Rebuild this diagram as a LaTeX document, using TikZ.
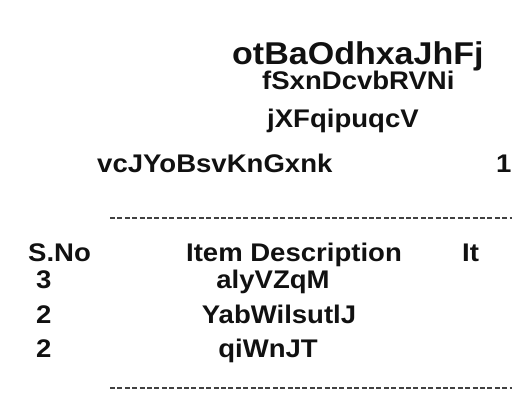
\documentclass[tikz,border=0pt]{standalone}
\usepackage{fontspec}
\setmainfont[FakeStretch=1.08]{Liberation Sans}
\definecolor{ink}{RGB}{17, 17, 17}
\tikzset{
  head/.style={font=\bfseries\fontsize{31.5}{34}\selectfont, text=ink, inner sep=0pt, anchor=base west},
  line/.style={font=\bfseries\fontsize{25.5}{28}\selectfont, text=ink, inner sep=0pt, anchor=base west},
  cell/.style={font=\bfseries\fontsize{25.5}{28}\selectfont, text=ink, inner sep=0pt, anchor=base},
  rule/.style={ink!80, line width=1.4pt, dash pattern=on 5pt off 2.4pt}
}
\begin{document}
\begin{tikzpicture}[x=1pt, y=-1pt]
            \useasboundingbox (0,0) rectangle (512,400);
            \clip (0,0) rectangle (512,400);
            \node[head] (title) at (232, 64)  {otBaOdhxaJhFj};
            \node[line] (sub)   at (262, 89)  {fSxnDcvbRVNi};
            \node[line] (code)  at (267,127)  {jXFqipuqcV};
            \node[line] (name)  at ( 97,172)  {vcJYoBsvKnGxnk};
            \node[line] (num)   at (496,172)  {1};
            \coordinate (ruleAw) at (110,218);  \coordinate (ruleAe) at (512,218);
            \coordinate (ruleBw) at (110,388);  \coordinate (ruleBe) at (512,388);
            \draw[rule] (ruleAw) -- (ruleAe);
            \draw[rule] (ruleBw) -- (ruleBe);
            \node[line] (sno)   at ( 28,261)  {S.No};
            \node[cell] (desc)  at (294,261)  {Item Description};
            \node[line] (item)  at (462,261)  {It};
            \node[line] (rowA)  at ( 36,288)  {3};
            \node[cell] (descA) at (273,288)  {alyVZqM};
            \node[line] (rowB)  at ( 36,323)  {2};
            \node[cell] (descB) at (279,323)  {YabWilsutlJ};
            \node[line] (rowC)  at ( 36,357)  {2};
            \node[cell] (descC) at (268,357)  {qiWnJT};
        \end{tikzpicture}
\end{document}
